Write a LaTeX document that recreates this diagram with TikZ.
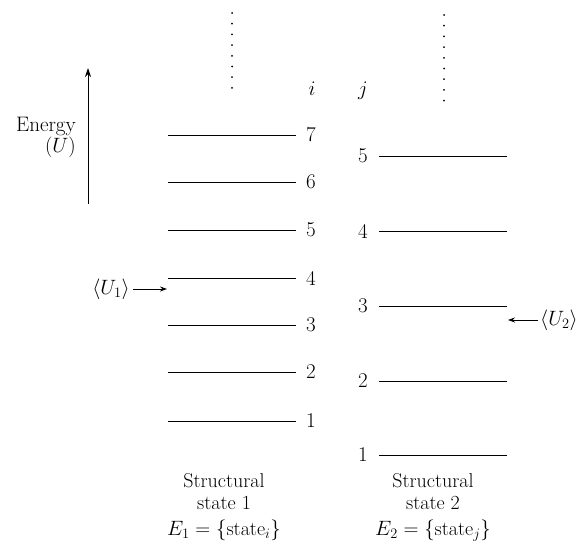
\documentclass[tikz,border=0pt]{standalone}
\usepackage{fontspec}
\usetikzlibrary{arrows.meta}
\begin{document}
\begin{tikzpicture}[x=1pt,y=-1pt,
  every node/.style={font=\fontsize{21}{21}\selectfont, inner sep=0pt},
  captext/.style={align=center, font=\fontsize{20}{22}\selectfont},
  lvl/.style={line width=0.9pt},
  ptr/.style={line width=0.9pt,-{Stealth[length=7pt,width=5pt]}},
  dotcol/.style={line width=2pt, line cap=round, dash pattern=on 0pt off 10.7pt}]
\useasboundingbox (0,0) rectangle (584,546);
% energy axis
\coordinate (ea) at (88,204);
\coordinate (eb) at (88,68);
\draw[line width=1pt,-{Stealth[length=9pt,width=6pt]}] (ea) -- (eb);
\node[anchor=east, align=right] (elab) at (76,137) {Energy\\$(U)$};
% dotted continuations
\coordinate (d1a) at (232,13);
\coordinate (d1b) at (232,89);
\draw[dotcol] (d1a) -- (d1b);
\coordinate (d2a) at (444,15);
\coordinate (d2b) at (444,101);
\draw[dotcol] (d2a) -- (d2b);
% indices
\node (ii) at (312,89) {$i$};
\node (jj) at (363,91) {$j$};
% left levels
\foreach \n/\y in {7/135,6/182,5/230,4/278,3/325,2/372,1/421}{
  \coordinate (La\n) at (168,\y);
  \coordinate (Lb\n) at (296,\y);
  \node (L\n) at (311,\y) {\n};
  \draw[lvl] (La\n) -- (Lb\n);
}
% right levels
\foreach \n/\y in {5/156,4/231,3/306,2/381,1/455}{
  \coordinate (Ra\n) at (379,\y);
  \coordinate (Rb\n) at (507,\y);
  \node (R\n) at (363,\y) {\n};
  \draw[lvl] (Ra\n) -- (Rb\n);
}
% averages
\node[anchor=east] (u1) at (130,289) {$\langle U_1\rangle$};
\coordinate (u1t) at (167,289);
\draw[ptr] ([xshift=3pt]u1.east) -- (u1t);
\node[anchor=west] (u2) at (540,320) {$\langle U_2\rangle$};
\coordinate (u2t) at (508,320);
\draw[ptr] ([xshift=-2pt]u2.west) -- (u2t);
% captions
\node[captext] (c1) at (224,507) {Structural\\state 1\\[4pt]$E_1=\{\mathrm{state}_i\}$};
\node[captext] (c2) at (433,507) {Structural\\state 2\\[4pt]$E_2=\{\mathrm{state}_j\}$};
\end{tikzpicture}
\end{document}
